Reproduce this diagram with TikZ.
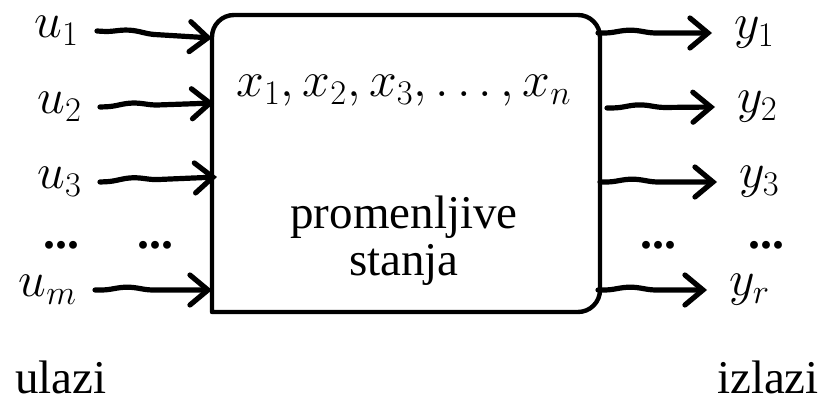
\documentclass[tikz,border=0pt]{standalone}
\usepackage{fontspec}
\setmainfont{Liberation Serif}
\usetikzlibrary{arrows.meta, decorations.pathmorphing, positioning}

\begin{document}
\begin{tikzpicture}[
  x=0.5pt, y=0.5pt,
  txt/.style={font=\fontsize{23.5}{23.5}\selectfont, inner sep=1pt},
  inlbl/.style={font=\fontsize{26}{26}\selectfont, inner sep=1pt, anchor=east, outer sep=8pt},
  outlbl/.style={font=\fontsize{26}{26}\selectfont, inner sep=1pt, anchor=west, outer sep=10pt},
  rowdots/.style={font=\fontsize{24}{24}\selectfont\bfseries, inner sep=1pt},
  boxline/.style={line width=2.2pt, line join=round},
  wire/.style={line width=2.6pt, line cap=round,
    -{Straight Barb[length=9pt, width=15pt, line cap=round]},
    decorate, decoration={snake, amplitude=1.4pt, segment length=42pt, pre length=3pt, post length=10pt}},
]
\useasboundingbox (0,0) rectangle (821,403);

% state block (lower left corner is square)
\draw[boxline] (212,91) -- (212,366) arc[start angle=180, end angle=90, radius=22]
  -- (578,388) arc[start angle=90, end angle=0, radius=22]
  -- (600,113) arc[start angle=0, end angle=-90, radius=22] -- cycle;

\node[txt] (xs) at (404,312) {\fontsize{24.5}{24.5}\selectfont$x_1, x_2, x_3, \ldots, x_n$};
\node[txt, anchor=base] (stvar1) at (404,175) {promenljive};
\node[txt, anchor=base] (stvar2) at (404,128) {stanja};

% points on the block
\coordinate (in1) at (212,365);
\coordinate (in2) at (214,300);
\coordinate (in3) at (217,226);
\coordinate (in4) at (212,113);
\coordinate (out1) at (598,370);
\coordinate (out2) at (607,295);
\coordinate (out3) at (600,221);
\coordinate (out4) at (598,113);

% inputs
\node[inlbl] (u1) at (97,372) {$u_1$};
\node[inlbl] (u2) at (100,296) {$u_2$};
\node[inlbl] (u3) at (100,221) {$u_3$};
\node[inlbl] (um) at (95,113) {$u_m$};
\node[rowdots] (ldots1) at (62,158) {...};
\node[rowdots] (ldots2) at (155,158) {...};

\draw[wire] (u1.east) -- (in1);
\draw[wire] (u2.east) -- (in2);
\draw[wire] (u3.east) -- (in3);
\draw[wire] (um.east) -- (in4);

% outputs
\node[outlbl] (y1) at (712,370) {$y_1$};
\node[outlbl] (y2) at (715,296) {$y_2$};
\node[outlbl] (y3) at (717,221) {$y_3$};
\node[outlbl] (yr) at (707,113) {$y_r$};
\node[rowdots] (rdots1) at (658,158) {...};
\node[rowdots] (rdots2) at (766,158) {...};

\draw[wire] (out1) -- (y1.west);
\draw[wire] (out2) -- (y2.west);
\draw[wire] (out3) -- (y3.west);
\draw[wire] (out4) -- (yr.west);

\node[txt, anchor=base] (inlabel) at (61,10) {ulazi};
\node[txt, anchor=base] (outlabel) at (768,10) {izlazi};
\end{tikzpicture}
\end{document}
